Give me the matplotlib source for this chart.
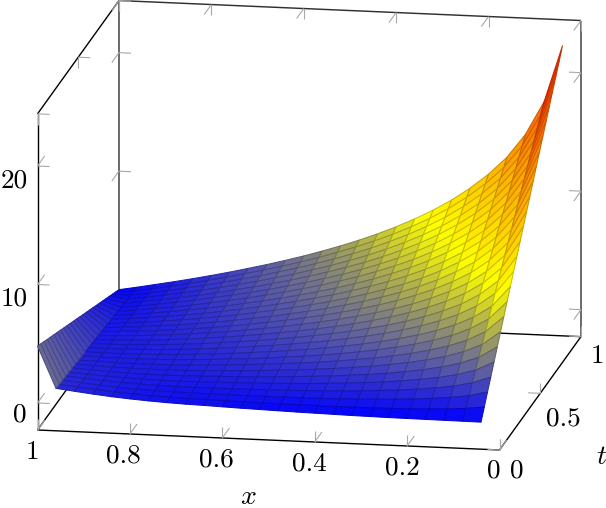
import numpy as np
import matplotlib
matplotlib.use("Agg")
import matplotlib.pyplot as plt
from matplotlib.colors import LinearSegmentedColormap
from mpl_toolkits.mplot3d import proj3d
from mpl_toolkits.mplot3d.art3d import Poly3DCollection

x_values = [1.00,0.96,0.92,0.88,0.84,0.80,0.76,0.72,0.68,0.64,0.60,0.56,0.52,0.48,0.44,0.40,0.36,0.32,0.28,0.24,0.20,0.16,0.12,0.08,0.04]
t_values = [0.00,0.04,0.08,0.12,0.16,0.20,0.24,0.28,0.32,0.36,0.40,0.44,0.48,0.52,0.56,0.60,0.64,0.68,0.72,0.76,0.80,0.84,0.88,0.92,0.96,1.00]
# one row per x value, one column per t value
z_values = [
[4.80,4.61,4.42,4.22,4.03,3.84,3.65,3.46,3.26,3.07,2.88,2.69,2.50,2.30,2.11,1.92,1.73,1.54,1.34,1.15,.96,.77,.58,.38,.19,0],
[1.30,1.26,1.22,1.18,1.14,1.10,1.06,1.01,.97,.93,.89,.85,.81,.77,.73,.69,.65,.61,.57,.52,.48,.44,.40,.36,.32,.28],
[1.12,1.10,1.08,1.06,1.03,1.01,.99,.97,.95,.93,.90,.88,.86,.84,.82,.80,.77,.75,.73,.71,.69,.67,.64,.62,.60,.58],
[.95,.95,.94,.94,.94,.94,.93,.93,.93,.92,.92,.92,.92,.91,.91,.91,.91,.90,.90,.90,.89,.89,.89,.89,.88,.88],
[.80,.82,.83,.85,.86,.88,.90,.91,.93,.94,.96,.98,.99,1.01,1.02,1.04,1.06,1.07,1.09,1.10,1.12,1.14,1.15,1.17,1.18,1.20],
[.68,.71,.75,.78,.82,.85,.89,.92,.96,.99,1.02,1.06,1.09,1.13,1.16,1.20,1.23,1.26,1.30,1.33,1.37,1.40,1.44,1.47,1.51,1.54],
[.58,.63,.68,.74,.79,.84,.89,.95,1.00,1.05,1.10,1.16,1.21,1.26,1.31,1.37,1.42,1.47,1.52,1.58,1.63,1.68,1.73,1.79,1.84,1.89],
[.50,.57,.64,.71,.78,.85,.92,1.00,1.07,1.14,1.21,1.28,1.35,1.42,1.49,1.56,1.63,1.70,1.77,1.85,1.92,1.99,2.06,2.13,2.20,2.27],
[.44,.53,.62,.71,.80,.88,.97,1.06,1.15,1.24,1.33,1.42,1.51,1.59,1.68,1.77,1.86,1.95,2.04,2.13,2.22,2.30,2.39,2.48,2.57,2.66],
[.40,.51,.61,.72,.83,.94,1.04,1.15,1.26,1.36,1.47,1.58,1.69,1.79,1.90,2.01,2.12,2.22,2.33,2.44,2.54,2.65,2.76,2.87,2.97,3.08],
[.35,.48,.60,.73,.86,.98,1.11,1.24,1.36,1.49,1.62,1.74,1.87,2.00,2.13,2.25,2.38,2.51,2.63,2.76,2.89,3.01,3.14,3.27,3.39,3.52],
[.30,.45,.60,.74,.89,1.04,1.19,1.34,1.48,1.63,1.78,1.93,2.08,2.22,2.37,2.52,2.67,2.82,2.96,3.11,3.26,3.41,3.56,3.70,3.85,4.00],
[.26,.43,.60,.77,.94,1.11,1.28,1.45,1.62,1.79,1.96,2.13,2.30,2.47,2.64,2.81,2.98,3.15,3.32,3.49,3.66,3.83,4.00,4.17,4.34,4.51],
[.22,.41,.61,.80,1.00,1.19,1.38,1.58,1.77,1.96,2.16,2.35,2.54,2.74,2.93,3.12,3.32,3.51,3.70,3.90,4.09,4.29,4.48,4.67,4.87,5.06],
[.18,.40,.62,.84,1.06,1.28,1.50,1.71,1.93,2.15,2.37,2.59,2.81,3.03,3.25,3.47,3.69,3.91,4.13,4.34,4.56,4.78,5.00,5.22,5.44,5.66],
[.15,.40,.64,.89,1.14,1.38,1.63,1.88,2.12,2.37,2.62,2.86,3.11,3.36,3.60,3.85,4.10,4.35,4.59,4.84,5.09,5.33,5.58,5.83,6.07,6.32],
[.12,.40,.67,.95,1.23,1.51,1.78,2.06,2.34,2.61,2.89,3.17,3.45,3.72,4.00,4.28,4.56,4.83,5.11,5.39,5.66,5.94,6.22,6.50,6.77,7.05],
[.09,.40,.71,1.02,1.33,1.64,1.95,2.27,2.58,2.89,3.20,3.51,3.82,4.13,4.44,4.75,5.06,5.37,5.68,5.99,6.31,6.62,6.93,7.24,7.55,7.86],
[.07,.42,.77,1.12,1.46,1.81,2.16,2.51,2.86,3.21,3.55,3.90,4.25,4.60,4.95,5.30,5.64,5.99,6.34,6.69,7.04,7.39,7.73,8.08,8.43,8.78],
[.05,.44,.83,1.23,1.62,2.01,2.40,2.79,3.19,3.58,3.97,4.36,4.75,5.15,5.54,5.93,6.32,6.71,7.11,7.50,7.89,8.28,8.67,9.07,9.46,9.85],
[.04,.48,.92,1.37,1.81,2.25,2.69,3.14,3.58,4.02,4.46,4.91,5.35,5.79,6.23,6.68,7.12,7.56,8.00,8.45,8.89,9.33,9.77,10.22,10.66,11.10],
[.03,.53,1.04,1.54,2.04,2.54,3.05,3.55,4.05,4.56,5.06,5.56,6.06,6.57,7.07,7.57,8.07,8.58,9.08,9.58,10.09,10.59,11.09,11.59,12.10,12.60],
[.02,.60,1.19,1.77,2.35,2.94,3.52,4.10,4.69,5.27,5.85,6.44,7.02,7.60,8.18,8.77,9.35,9.93,10.52,11.10,11.68,12.27,12.85,13.43,14.02,14.60],
[.01,.71,1.40,2.10,2.79,3.49,4.18,4.88,5.57,6.27,6.97,7.66,8.36,9.05,9.75,10.44,11.14,11.83,12.53,13.22,13.92,14.62,15.31,16.01,16.70,17.40],
[0,.89,1.78,2.66,3.55,4.44,5.33,6.22,7.10,7.99,8.88,9.77,10.66,11.54,12.43,13.32,14.21,15.10,15.98,16.87,17.76,18.65,19.54,20.42,21.31,22.20],
]
x_ticks = [1, 0.8, 0.6, 0.4, 0.2, 0]
t_ticks = [0, 0.5, 1]
z_ticks = [0, 10, 20]
x_tick_labels = ["1", "0.8", "0.6", "0.4", "0.2", "0"]
t_tick_labels = ["0", "0.5", "1"]
z_tick_labels = ["0", "10", "20"]

ZMIN, ZMAX = -2.28, 24.4
W, H = 606, 508
plt.rcParams["axes.unicode_minus"] = False

fig = plt.figure(figsize=(W / 100, H / 100), dpi=100)
L0, l0, b0 = 500.0, 50.0, 4.0
ax = fig.add_axes([l0 / W, b0 / H, L0 / W, L0 / H], projection="3d", computed_zorder=False)
ax.set_proj_type("ortho")
ax.view_init(elev=14.2, azim=-80)
ax.set_xlim(1, 0)
ax.set_ylim(0, 1)
ax.set_zlim(ZMIN, ZMAX)
ax.set_box_aspect((469, 469, 326))
ax.set_axis_off()
ax.patch.set_alpha(0)

# surface
cmap = LinearSegmentedColormap.from_list("hot_pgf", [(0, 0, 1), (1, 1, 0), (1, 0.5, 0), (1, 0, 0)])
X = np.array(x_values)
T = np.array(t_values)
Z = np.array(z_values)
verts, metas = [], []
for i in range(len(X) - 1):
    for j in range(len(T) - 1):
        idx = [(i, j), (i + 1, j), (i + 1, j + 1), (i, j + 1)]
        verts.append([(X[a], T[b], Z[a, b]) for a, b in idx])
        metas.append(np.mean([Z[a, b] for a, b in idx]))
metas = (np.array(metas) - Z.min()) / (Z.max() - Z.min())
face = cmap(metas)
edge = face.copy()
edge[:, :3] *= 0.78
poly = Poly3DCollection(verts, facecolors=face, edgecolors=edge, linewidths=0.72, zorder=3)
ax.add_collection3d(poly)

def seg(p, q, color="black", lw=1.0, z=1):
    ax.plot([p[0], q[0]], [p[1], q[1]], [p[2], q[2]], color=color, lw=lw, zorder=z,
            solid_capstyle="butt", clip_on=False)

# box
for p, q in [((1, 0, ZMIN), (0, 0, ZMIN)), ((0, 0, ZMIN), (0, 1, ZMIN)), ((1, 0, ZMIN), (1, 1, ZMIN)),
             ((1, 1, ZMIN), (0, 1, ZMIN)), ((1, 0, ZMIN), (1, 0, ZMAX)), ((1, 0, ZMAX), (1, 1, ZMAX))]:
    seg(p, q)
for p, q in [((1, 1, ZMIN), (1, 1, ZMAX)), ((0, 1, ZMIN), (0, 1, ZMAX))]:
    seg(p, q, color="#505050", lw=1.2)
seg((1, 1, ZMAX), (0, 1, ZMAX), color="#303030", lw=1.05)

# ticks: gray inward marks along the two other axis directions
DX, DT, DZ = 0.026, 0.088, 0.9
TC, TW = "#a8a8a8", 0.8
def tick(p, *dirs):
    for d in dirs:
        seg(p, (p[0] + d[0], p[1] + d[1], p[2] + d[2]), color=TC, lw=TW, z=2)
for v in x_ticks:
    tick((v, 0, ZMIN), (0, 0, DZ), (0, DT, 0))
    tick((v, 1, ZMAX), (0, 0, -DZ), (0, -DT, 0))
for v in t_ticks:
    tick((1, v, ZMAX), (-DX, 0, 0), (0, 0, -DZ))
    tick((0, v, ZMIN), (DX, 0, 0), (0, 0, DZ))
for v in z_ticks:
    tick((1, 0, v), (-DX, 0, 0), (0, DT, 0))
    tick((1, 1, v), (-DX, 0, 0), (0, -DT, 0))
    tick((0, 1, v), (DX, 0, 0), (0, -DT, 0))

# fit the projected box to the frame
fig.canvas.draw()
def px(p):
    u, v, _ = proj3d.proj_transform(p[0], p[1], p[2], ax.get_proj())
    return ax.transData.transform((u, v))
A = px((1, 0, ZMIN))
B = px((0, 0, ZMIN))
target_A = np.array([37.5, H - 430.0])
target_B = np.array([499.5, H - 450.0])
s = np.linalg.norm(target_B - target_A) / np.linalg.norm(B - A)
L1 = L0 * s
fa = (A - np.array([l0, b0])) / L0
l1, b1 = target_A - fa * L1
ax.set_position([l1 / W, b1 / H, L1 / W, L1 / H])

# text
FS = 19.6
def label(xp, yp, s_, fs=FS, **kw):
    fig.text(xp / W, 1 - yp / H, s_, fontsize=fs, ha="center", va="center", **kw)
for (xp, yp), s_ in zip([(32, 452), (123, 456), (216, 460), (309, 464), (402, 468), (494, 471)], x_tick_labels):
    label(xp, yp, s_, family="cmr10")
for (xp, yp), s_ in zip([(517, 471), (563, 419), (597, 356)], t_tick_labels):
    label(xp, yp, s_, family="cmr10")
for (xp, yp), s_ in zip([(20, 415), (14, 299), (14, 181)], z_tick_labels):
    label(xp, yp, s_, family="cmr10")
label(248, 497, "x", fs=20, family="cmmi10")
label(601, 457, "t", fs=20, family="cmmi10")

fig.savefig("out.png", dpi=100)
